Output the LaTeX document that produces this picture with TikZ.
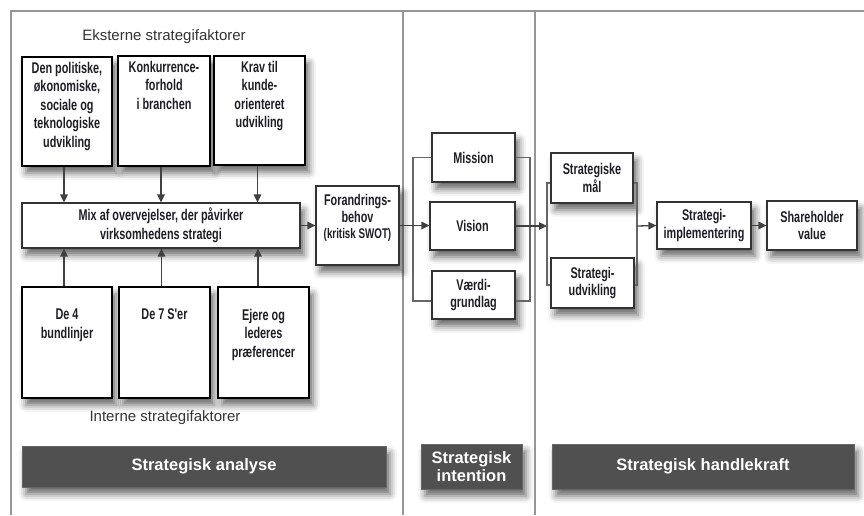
\documentclass[tikz,border=0pt]{standalone}
\usepackage{fontspec}
\setmainfont{Liberation Sans}
\newfontfamily\condfont[FakeStretch=0.7]{Liberation Sans}
\usetikzlibrary{arrows.meta,shadows.blur}
\definecolor{framegray}{RGB}{150,150,150}
\definecolor{barfill}{RGB}{80,80,80}
\definecolor{boxtext}{RGB}{30,30,40}
\tikzset{
  shad/.style={blur shadow={shadow xshift=4pt,shadow yshift=-7pt,shadow blur radius=7pt,shadow opacity=60}},
  thickbox/.style={draw=black,line width=2.4pt,fill=white,shad,inner sep=0pt},
  thinbox/.style={draw=black!80,line width=1.2pt,fill=white,shad,font=\condfont\bfseries\fontsize{15.5}{17.5}\selectfont,text=boxtext,align=center,inner sep=2pt},
  btext/.style={font=\condfont\bfseries\fontsize{15.5}{18.5}\selectfont,text=boxtext,align=center,anchor=north,inner sep=0pt},
  bar/.style={fill=barfill,draw=black!60,line width=0.6pt,shad,text=white,font=\bfseries\fontsize{16.5}{18}\selectfont,align=center,inner sep=0pt},
  frameline/.style={draw=framegray,line width=1.6pt},
  conn/.style={draw=black!75,line width=1.3pt},
  arr/.style={conn,-{Triangle[length=8pt,width=7.5pt]}},
  caption/.style={font=\fontsize{15}{17}\selectfont,text=black!80}
}
\begin{document}
\begin{tikzpicture}[x=1pt,y=-1pt]
\useasboundingbox (0,0) rectangle (864,515);
% frame
\draw[frameline] (11,515) -- (11,11) -- (864,11);
\draw[frameline] (403,11) -- (403,515);
\draw[frameline] (535,11) -- (535,515);

\node[caption] (ext) at (164,37) {Eksterne strategifaktorer};
\node[caption] (int) at (165,418) {Interne strategifaktorer};

% external boxes
\node[thickbox,minimum width=90,minimum height=109] (e1) at (67,111.5) {};
\node[thickbox,minimum width=92,minimum height=110] (e2) at (164,111) {};
\node[thickbox,minimum width=91,minimum height=109] (e3) at (259.5,110.5) {};
\node[btext] (e1t) at ([yshift=-6pt]e1.north) {Den politiske,\\økonomiske,\\sociale og\\teknologiske\\udvikling};
\node[btext] (e2t) at ([yshift=-6pt]e2.north) {Konkurrence-\\forhold\\i branchen};
\node[btext] (e3t) at ([yshift=-6pt]e3.north) {Krav til\\kunde-\\orienteret\\udvikling};

% mix
\node[thinbox,minimum width=278,minimum height=45,font=\condfont\bfseries\fontsize{15.5}{19}\selectfont] (mix) at (161,225.5) {Mix af overvejelser, der påvirker\\virksomhedens strategi};

% internal boxes
\node[thickbox,minimum width=90,minimum height=111] (i1) at (67,342.5) {};
\node[thickbox,minimum width=91,minimum height=111] (i2) at (164.5,342.5) {};
\node[thickbox,minimum width=91,minimum height=111] (i3) at (263.5,342.5) {};
\node[btext] (i1t) at ([yshift=-23pt]i1.north) {De 4\\bundlinjer};
\node[btext] (i2t) at ([yshift=-23pt]i2.north) {De 7 S'er};
\node[btext] (i3t) at ([yshift=-23pt]i3.north) {Ejere og\\lederes\\præferencer};

% arrows ext/int -> mix
\draw[arr] ([xshift=-3pt]e1.south) -- ([xshift=-3pt]e1.south |- mix.north);
\draw[arr] ([xshift=-3pt]e2.south) -- ([xshift=-3pt]e2.south |- mix.north);
\draw[arr] ([xshift=-2pt]e3.south) -- ([xshift=-2pt]e3.south |- mix.north);
\draw[arr] ([xshift=-3pt]i1.north) -- ([xshift=-3pt]i1.north |- mix.south);
\draw[arr] ([xshift=-3pt]i2.north) -- ([xshift=-3pt]i2.north |- mix.south);
\draw[arr] ([xshift=-5.5pt]i3.north) -- ([xshift=-5.5pt]i3.north |- mix.south);

% Forandringsbehov
\node[thinbox,minimum width=83,minimum height=79] (fb) at (357.5,225.5) {};
\node[btext,font=\condfont\bfseries\fontsize{15.5}{16.5}\selectfont] (fbt) at ([yshift=-9pt]fb.north) {Forandrings-\\behov\\{\fontsize{14}{16}\selectfont(kritisk SWOT)}};
\draw[arr] (mix.east) -- (fb.west);

% intention
\node[thinbox,minimum width=83,minimum height=49] (mis) at (473.5,157.5) {Mission};
\node[thinbox,minimum width=85,minimum height=48] (vis) at (472.5,226) {Vision};
\node[thinbox,minimum width=83,minimum height=48] (vae) at (473.5,295) {Værdi-\\grundlag};
\coordinate (bl1) at (413,157.5);
\coordinate (bl2) at (413,301);
\coordinate (br1) at (530,157.5);
\coordinate (br2) at (530,301);
\draw[conn,draw=black!60] (mis.west) -- (bl1) -- (bl2) -- (vae.west |- bl2);
\draw[conn,draw=black!60] (mis.east) -- (br1) -- (br2) -- (vae.east |- br2);
\draw[arr] (fb.east) -- (vis.west |- fb.east);

% handlekraft
\node[thinbox,minimum width=82,minimum height=50] (sm) at (592,178) {Strategiske\\mål};
\node[thinbox,minimum width=83,minimum height=50,line width=1.7pt] (su) at (592.5,283) {Strategi-\\udvikling};
\coordinate (cl1) at (547,183);
\coordinate (cl2) at (547,285);
\coordinate (cr1) at (637,183);
\coordinate (cr2) at (637,285);
\coordinate (cin) at (547,226);
\coordinate (cout) at (637,226);
\draw[conn,draw=black!60] (sm.west |- cl1) -- (cl1) -- (cl2) -- (su.west |- cl2);
\draw[conn,draw=black!60] (sm.east |- cr1) -- (cr1) -- (cr2) -- (su.east |- cr2);
\draw[arr] (vis.east) -- (cin);

\node[thinbox,minimum width=94,minimum height=47] (imp) at (704,225.5) {Strategi-\\implementering};
\node[thinbox,minimum width=90,minimum height=49] (sv) at (812,225.5) {Shareholder\\value};
\draw[arr] (cout) -- (imp.west);
\draw[arr] (imp.east) -- (sv.west);

% bars
\node[bar,minimum width=364,minimum height=41] (ba) at (204,466.5) {Strategisk analyse};
\node[bar,minimum width=101,minimum height=45] (bi) at (471.5,466.5) {Strategisk\\intention};
\node[bar,minimum width=302,minimum height=45] (bh) at (703,466.5) {Strategisk handlekraft};
\end{tikzpicture}
\end{document}
